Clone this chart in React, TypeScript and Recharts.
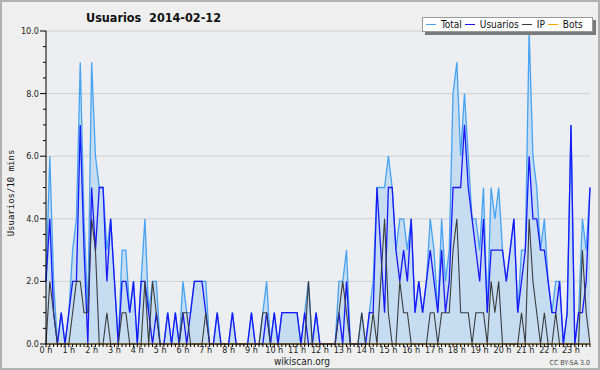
import React from 'react'
import { ComposedChart, Area, Line, XAxis, YAxis, CartesianGrid } from 'recharts'

// 10-minute slots over the day (144)
const slots = Array.from({ length: 144 }, (_, i) => `${String(Math.floor(i / 6)).padStart(2, '0')}:${i % 6}0`)

const total = [
  2, 6, 2, 0, 1, 0, 1, 3, 4, 9, 4, 1, 9, 6, 5, 5, 3, 4, 2, 0, 3, 3, 1, 2,
  0, 2, 4, 1, 2, 2, 0, 0, 1, 0, 1, 0, 2, 1, 1, 2, 2, 2, 2, 0, 0, 1, 0, 0,
  0, 1, 0, 0, 0, 0, 1, 0, 0, 1, 2, 0, 1, 0, 1, 1, 1, 1, 1, 0, 1, 2, 0, 1,
  0, 0, 0, 0, 0, 2, 2, 3, 0, 0, 0, 1, 0, 1, 2, 5, 5, 5, 6, 5, 3, 4, 4, 3,
  4, 1, 2, 1, 2, 4, 3, 1, 4, 2, 3, 8, 9, 6, 8, 6, 4, 4, 3, 5, 1, 5, 4, 5,
  3, 2, 3, 4, 1, 3, 3, 10, 6, 5, 3, 4, 2, 1, 2, 2, 0, 1, 7, 0, 1, 4, 3, 5,
]

const usuarios = [
  2, 4, 1, 0, 1, 0, 1, 2, 2, 7, 3, 0, 5, 3, 5, 5, 2, 4, 2, 0, 2, 2, 1, 2,
  0, 2, 2, 1, 0, 1, 0, 0, 1, 0, 1, 0, 1, 0, 1, 2, 2, 2, 1, 0, 0, 1, 0, 0,
  0, 1, 0, 0, 0, 0, 1, 0, 0, 0, 1, 0, 1, 0, 1, 1, 1, 1, 1, 0, 1, 0, 0, 1,
  0, 0, 0, 0, 0, 1, 0, 2, 0, 0, 0, 0, 0, 1, 1, 5, 3, 1, 5, 5, 3, 2, 3, 2,
  4, 1, 2, 1, 2, 3, 2, 1, 3, 1, 2, 5, 5, 5, 7, 5, 4, 3, 2, 4, 1, 3, 3, 3,
  3, 2, 3, 4, 1, 2, 3, 6, 4, 4, 3, 3, 2, 1, 1, 2, 0, 1, 7, 0, 1, 1, 2, 5,
]

const ip = [
  0, 2, 1, 0, 0, 0, 0, 1, 2, 2, 1, 1, 4, 3, 0, 0, 1, 0, 0, 0, 1, 1, 0, 0,
  0, 0, 2, 0, 2, 1, 0, 0, 0, 0, 0, 0, 1, 1, 0, 0, 0, 0, 1, 0, 0, 0, 0, 0,
  0, 0, 0, 0, 0, 0, 0, 0, 0, 1, 1, 0, 0, 0, 0, 0, 0, 0, 0, 0, 0, 2, 0, 0,
  0, 0, 0, 0, 0, 1, 2, 1, 0, 0, 0, 1, 0, 0, 1, 0, 2, 4, 1, 0, 0, 2, 1, 1,
  0, 0, 0, 0, 0, 1, 1, 0, 1, 1, 1, 3, 4, 1, 1, 1, 0, 1, 1, 1, 0, 2, 1, 2,
  0, 0, 0, 0, 0, 1, 0, 4, 2, 1, 0, 1, 0, 0, 1, 0, 0, 0, 0, 0, 0, 3, 1, 0,
]

const bots = [
  0, 0, 0, 0, 0, 0, 0, 0, 0, 0, 0, 0, 0, 0, 0, 0, 0, 0, 0, 0, 0, 0, 0, 0,
  0, 0, 0, 0, 0, 0, 0, 0, 0, 0, 0, 0, 0, 0, 0, 0, 0, 0, 0, 0, 0, 0, 0, 0,
  0, 0, 0, 0, 0, 0, 0, 0, 0, 0, 0, 0, 0, 0, 0, 0, 0, 0, 0, 0, 0, 0, 0, 0,
  0, 0, 0, 0, 0, 0, 0, 0, 0, 0, 0, 0, 0, 0, 0, 0, 0, 0, 0, 0, 0, 0, 0, 0,
  0, 0, 0, 0, 0, 0, 0, 0, 0, 0, 0, 0, 0, 0, 0, 0, 0, 0, 0, 0, 0, 0, 0, 0,
  0, 0, 0, 0, 0, 0, 0, 0, 0, 0, 0, 0, 0, 0, 0, 0, 0, 0, 0, 0, 0, 0, 0, 0,
]

const yTicks = [0, 0.5, 1, 1.5, 2, 2.5, 3, 3.5, 4, 4.5, 5, 5.5, 6, 6.5, 7, 7.5, 8, 8.5, 9, 9.5, 10]
const yGrid = [2, 4, 6, 8, 10]

const SERIES = [
  { name: 'Total', color: '#45A3F2' },
  { name: 'Usuarios', color: '#1818F8' },
  { name: 'IP', color: '#3C3C3C' },
  { name: 'Bots', color: '#FFA500' },
]

const FONT = "'DejaVu Sans Condensed', 'DejaVu Sans', sans-serif"

const data = slots.map((slot, i) => ({
  slot,
  total: total[i],
  usuarios: usuarios[i],
  ip: ip[i],
  bots: bots[i],
}))

const YTick = (props: any) => {
  const { x, y, payload } = props
  const v = payload.value as number
  const major = v % 2 === 0
  return (
    <g>
      <line x1={x - (major ? 6 : 3)} x2={x} y1={y} y2={y} stroke="#000" />
      {major && (
        <text x={x - 7} y={y} dy={3} textAnchor="end" fontSize={9} fill="#222" fontFamily={FONT} style={{ fontStretch: 'condensed' }}>
          {v.toFixed(1)}
        </text>
      )}
    </g>
  )
}

const hourLabel = (slot: string) => (slot.endsWith(':00') ? `${parseInt(slot.slice(0, 2), 10)} h` : '')

export default function App() {
  return (
    <div
      style={{
        position: 'absolute',
        left: 0,
        top: 0,
        width: 600,
        height: 370,
        boxSizing: 'border-box',
        border: '2px solid #B0B0B0',
        background: '#EFEFEF',
        fontFamily: FONT,
        fontStretch: 'condensed',
      }}
    >
      <div style={{ position: 'absolute', left: -2, top: -2 }}>
        <ComposedChart width={600} height={370} data={data} margin={{ top: 31, right: 10, bottom: 10, left: 6 }}>
          <CartesianGrid vertical={false} horizontalValues={yGrid} stroke="#CFCFCF" fill="#ECEEF1" />
          <XAxis
            dataKey="slot"
            scale="point"
            padding={{ left: 0, right: 0 }}
            interval={0}
            height={16}
            tickSize={3}
            tickMargin={0}
            stroke="#000"
            tickFormatter={hourLabel}
            tick={{ fontSize: 9, fill: '#222', fontFamily: FONT }}
          />
          <YAxis
            type="number"
            domain={[0, 10]}
            ticks={yTicks}
            interval={0}
            width={40}
            tickSize={0}
            tickMargin={0}
            tickLine={false}
            stroke="#000"
            tick={<YTick />}
          />
          <Area
            type="linear"
            dataKey="total"
            stroke={SERIES[0].color}
            strokeWidth={1.3}
            fill="#C6DCF0"
            fillOpacity={1}
            dot={false}
            activeDot={false}
            isAnimationActive={false}
          />
          <Line type="linear" dataKey="usuarios" stroke={SERIES[1].color} strokeWidth={1.3} dot={false} activeDot={false} isAnimationActive={false} />
          <Line type="linear" dataKey="ip" stroke={SERIES[2].color} strokeWidth={1.1} dot={false} activeDot={false} isAnimationActive={false} />
          <Line type="linear" dataKey="bots" stroke={SERIES[3].color} strokeWidth={1} dot={false} activeDot={false} isAnimationActive={false} />
        </ComposedChart>
      </div>

      {/* titulo */}
      <div style={{ position: 'absolute', left: 84, top: 8, fontSize: 12.5, fontWeight: 'bold', color: '#111', whiteSpace: 'pre' }}>
        {'Usuarios  2014-02-12'}
      </div>

      {/* leyenda */}
      <div
        style={{
          position: 'absolute',
          left: 420,
          top: 15,
          width: 166,
          height: 13,
          background: '#FFF',
          border: '1px solid #999',
          boxShadow: '3px 3px 0 #7A7A7A',
          display: 'flex',
          alignItems: 'center',
          fontSize: 10,
          color: '#111',
          paddingLeft: 3,
        }}
      >
        {SERIES.map((s) => (
          <span key={s.name} style={{ display: 'flex', alignItems: 'center', marginRight: 3 }}>
            <span style={{ display: 'inline-block', width: 10, height: 1.5, background: s.color, marginRight: 5 }} />
            {s.name}
          </span>
        ))}
      </div>

      {/* eje y */}
      <div
        style={{
          position: 'absolute',
          left: 9 - 50,
          top: 186,
          width: 100,
          textAlign: 'center',
          transform: 'rotate(-90deg)',
          fontFamily: "'DejaVu Sans Mono', monospace",
          fontStretch: 'normal',
          fontSize: 9,
          color: '#111',
        }}
      >
        Usuarios/10 mins
      </div>

      <div style={{ position: 'absolute', left: 250, width: 100, top: 354, textAlign: 'center', fontSize: 10, color: '#222' }}>
        wikiscan.org
      </div>
      <div style={{ position: 'absolute', right: 8, top: 357, fontSize: 7, color: '#444' }}>CC BY-SA 3.0</div>
    </div>
  )
}
